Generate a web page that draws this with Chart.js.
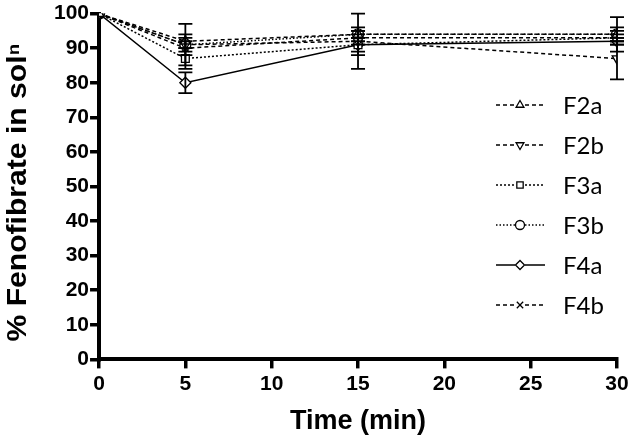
<!DOCTYPE html>
<html>
<head>
<meta charset="utf-8">
<script src="https://cdn.jsdelivr.net/npm/chart.js@4.4.1/dist/chart.umd.min.js"></script>
<style>
  html, body { margin: 0; padding: 0; background: #fff; }
  #wrap { width: 634px; height: 445px; }
</style>
</head>
<body>
<div id="wrap"><canvas id="c"></canvas></div>
<script>
const FONT = "'Liberation Sans', Arial, sans-serif";
const LEG_FONT = "Lato, 'Open Sans', sans-serif";

// time points (min)
const times = [0, 5, 15, 30];

// % fenofibrate in solution, per formulation
const f2a = [100, 92, 94, 94];
const f2b = [100, 91, 92, 87];
const f3a = [100, 87, 91, 93];
const f3b = [100, 91, 94, 94];
const f4a = [100, 80, 91, 92];
const f4b = [100, 90, 93, 93];

// error bar half-widths (SD)
const f2aErr = [0, 2, 1, 5];
const f2bErr = [0, 6, 8, 6];
const f3aErr = [0, 3, 3, 1];
const f3bErr = [0, 2, 2, 2];
const f4aErr = [0, 3, 2, 1];
const f4bErr = [0, 2, 2, 2];

const labels = ['F2a', 'F2b', 'F3a', 'F3b', 'F4a', 'F4b'];
const yTitle = '% Fenofibrate in solⁿ';

function xy(vals) { return vals.map((v, i) => ({ x: times[i], y: v })); }

function ds(label, vals, err, style, rot, dash) {
  return {
    label,
    data: xy(vals),
    err,
    borderColor: '#000',
    borderWidth: 1.5,
    borderDash: dash,
    pointStyle: style,
    rotation: rot,
    pointRadius: 5.5,
    pointBackgroundColor: '#fff',
    pointBorderColor: '#000',
    pointBorderWidth: 1.3,
    tension: 0,
    fill: false
  };
}

const datasets = [
  ds(labels[0], f2a, f2aErr, 'triangle', 0, [4, 3]),
  ds(labels[1], f2b, f2bErr, 'triangle', 180, [4, 3]),
  ds(labels[2], f3a, f3aErr, 'rect', 0, [2, 2]),
  ds(labels[3], f3b, f3bErr, 'circle', 0, [1.5, 2]),
  ds(labels[4], f4a, f4aErr, 'rectRot', 0, []),
  ds(labels[5], f4b, f4bErr, 'crossRot', 0, [4, 3])
];

// vertical error bars with caps
const errorBars = {
  id: 'errorBars',
  afterDatasetsDraw(chart) {
    const ctx = chart.ctx;
    const xs = chart.scales.x, ys = chart.scales.y;
    ctx.save();
    ctx.strokeStyle = '#000';
    ctx.lineWidth = 1.8;
    chart.data.datasets.forEach(d => {
      d.data.forEach((p, i) => {
        const e = d.err[i];
        if (!e) return;
        const px = xs.getPixelForValue(p.x);
        const top = ys.getPixelForValue(Math.min(p.y + e, 100.5));
        const bot = ys.getPixelForValue(p.y - e);
        ctx.beginPath();
        ctx.moveTo(px, top); ctx.lineTo(px, bot);
        ctx.moveTo(px - 7, top); ctx.lineTo(px + 7, top);
        ctx.moveTo(px - 7, bot); ctx.lineTo(px + 7, bot);
        ctx.stroke();
      });
    });
    ctx.restore();
  }
};

// legend drawn as line sample + marker + label, plus the condensed y title
const sideLegend = {
  id: 'sideLegend',
  afterDraw(chart) {
    const ctx = chart.ctx;
    ctx.save();
    chart.data.datasets.forEach((d, i) => {
      const y = 105 + i * 40;
      const x0 = 496, x1 = 545, xm = 520;
      ctx.strokeStyle = '#000';
      ctx.lineWidth = 1.3;
      ctx.setLineDash(d.borderDash);
      ctx.beginPath();
      ctx.moveTo(x0, y); ctx.lineTo(xm - 5, y);
      ctx.moveTo(xm + 5, y); ctx.lineTo(x1, y);
      ctx.stroke();
      ctx.setLineDash([]);
      ctx.fillStyle = '#fff';
      Chart.helpers.drawPoint(ctx, {
        pointStyle: d.pointStyle, rotation: d.rotation, radius: 4.5, borderWidth: 1.2
      }, xm, y);
      ctx.fillStyle = '#000';
      ctx.font = "24px " + LEG_FONT;
      ctx.textBaseline = 'middle';
      ctx.fillText(d.label, 563, y + 1);
    });

    // y title, squeezed along its length like the original
    const ya = chart.scales.y;
    ctx.font = "bold 27px " + FONT;
    const w = ctx.measureText(yTitle).width;
    ctx.translate(19, (ya.top + ya.bottom) / 2 + 6);
    ctx.rotate(-Math.PI / 2);
    ctx.scale(298 / w, 1);
    ctx.fillStyle = '#000';
    ctx.textAlign = 'center';
    ctx.textBaseline = 'middle';
    ctx.fillText(yTitle, 0, 0);
    ctx.restore();
  }
};

const tickFont = { family: FONT, size: 21, weight: 'bold' };

new Chart(document.getElementById('c'), {
  type: 'line',
  data: { datasets },
  options: {
    responsive: true,
    maintainAspectRatio: false,
    animation: false,
    layout: { padding: { top: 2, right: 17, left: 53, bottom: 7 } },
    plugins: { legend: { display: false }, tooltip: { enabled: false } },
    scales: {
      x: {
        type: 'linear', min: 0, max: 30,
        border: { color: '#000', width: 4 },
        grid: { drawOnChartArea: false, color: '#000', lineWidth: 3.5, tickLength: 9 },
        ticks: { stepSize: 5, color: '#000', font: tickFont, padding: 3, maxRotation: 0 },
        title: { display: true, text: 'Time (min)', color: '#000',
                 font: { family: FONT, size: 27, weight: 'bold' }, padding: { top: 6, bottom: 0 } }
      },
      y: {
        min: 0, max: 100,
        border: { color: '#000', width: 4 },
        grid: { drawOnChartArea: false, color: '#000', lineWidth: 3.5, tickLength: 9 },
        ticks: { stepSize: 10, color: '#000', font: tickFont, padding: 1 }
      }
    }
  },
  plugins: [errorBars, sideLegend]
});
</script>
</body>
</html>
